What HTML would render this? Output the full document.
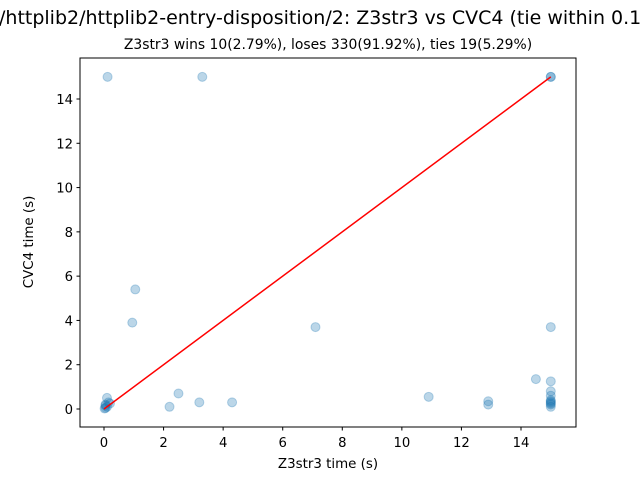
<!DOCTYPE html>
<html><head><meta charset="utf-8"><style>body{margin:0;background:#fff}svg{font-family:"DejaVu Sans","Liberation Sans",sans-serif}</style></head>
<body>
<svg id="c" width="640" height="480">
<text x="-1" y="24" font-size="19">/httplib2/httplib2-entry-disposition/2: Z3str3 vs CVC4 (tie within 0.1 seconds)</text>
<text x="328" y="49" font-size="13.9" text-anchor="middle">Z3str3 wins 10(2.79%), loses 330(91.92%), ties 19(5.29%)</text>
<g id="plot"></g>
<rect x="80" y="58" width="496" height="369" fill="none" stroke="#000" stroke-width="1"/>
<text x="328" y="468" font-size="13.4" text-anchor="middle">Z3str3 time (s)</text>
<text transform="translate(33,242) rotate(-90)" font-size="13.4" text-anchor="middle">CVC4 time (s)</text>
</svg>
<script>
const xTicks=[0,2,4,6,8,10,12,14];
const yTicks=[0,2,4,6,8,10,12,14];
const xVals=[0.05,0.1,0.05,0.15,0.1,0.05,0.02,0.2,0.12,3.3,15,15,1.05,0.95,7.1,15,2.5,2.2,3.2,4.3,10.9,12.9,12.9,14.5,15,15,15,15,15,15,15,15,15];
const yVals=[0.05,0.1,0.2,0.3,0.5,0.15,0.02,0.25,15,15,15,15,5.4,3.9,3.7,3.7,0.7,0.1,0.3,0.3,0.55,0.2,0.35,1.35,1.25,0.8,0.6,0.4,0.3,0.2,0.1,0.25,0.35];
const lineX=[0,15], lineY=[0,15];
const sx=v=>104+v*(521-104)/14, sy=v=>409-v*(409-99)/14;
const NS='http://www.w3.org/2000/svg', g=document.getElementById('plot');
function mk(t,a){const e=document.createElementNS(NS,t);for(const k in a)e.setAttribute(k,a[k]);g.appendChild(e);return e;}
xTicks.forEach(t=>{
 const l=mk('line',{x1:sx(t),x2:sx(t),y1:427,y2:430.5,stroke:'#000'});
 
 
 const tx=mk('text',{x:sx(t),y:447,'font-size':13.2,'text-anchor':'middle'});tx.textContent=t;
 
 
});
yTicks.forEach(t=>{
 const l=mk('line',{x1:76.5,x2:80,y1:sy(t),y2:sy(t),stroke:'#000'});
 
 
 const tx=mk('text',{x:73,y:sy(t)+5,'font-size':13.2,'text-anchor':'end'});tx.textContent=t;
 
 
});
xVals.forEach((x,i)=>{
 const c=mk('circle',{cx:sx(x),cy:sy(yVals[i]),r:4.5,fill:'#1f77b4','fill-opacity':0.3,stroke:'#1f77b4','stroke-opacity':0.3});
 
 
});
const ln=mk('line',{x1:sx(lineX[0]),y1:sy(lineY[0]),x2:sx(lineX[1]),y2:sy(lineY[1]),stroke:'#ff0000','stroke-width':1.5});


</script>
</body></html>
